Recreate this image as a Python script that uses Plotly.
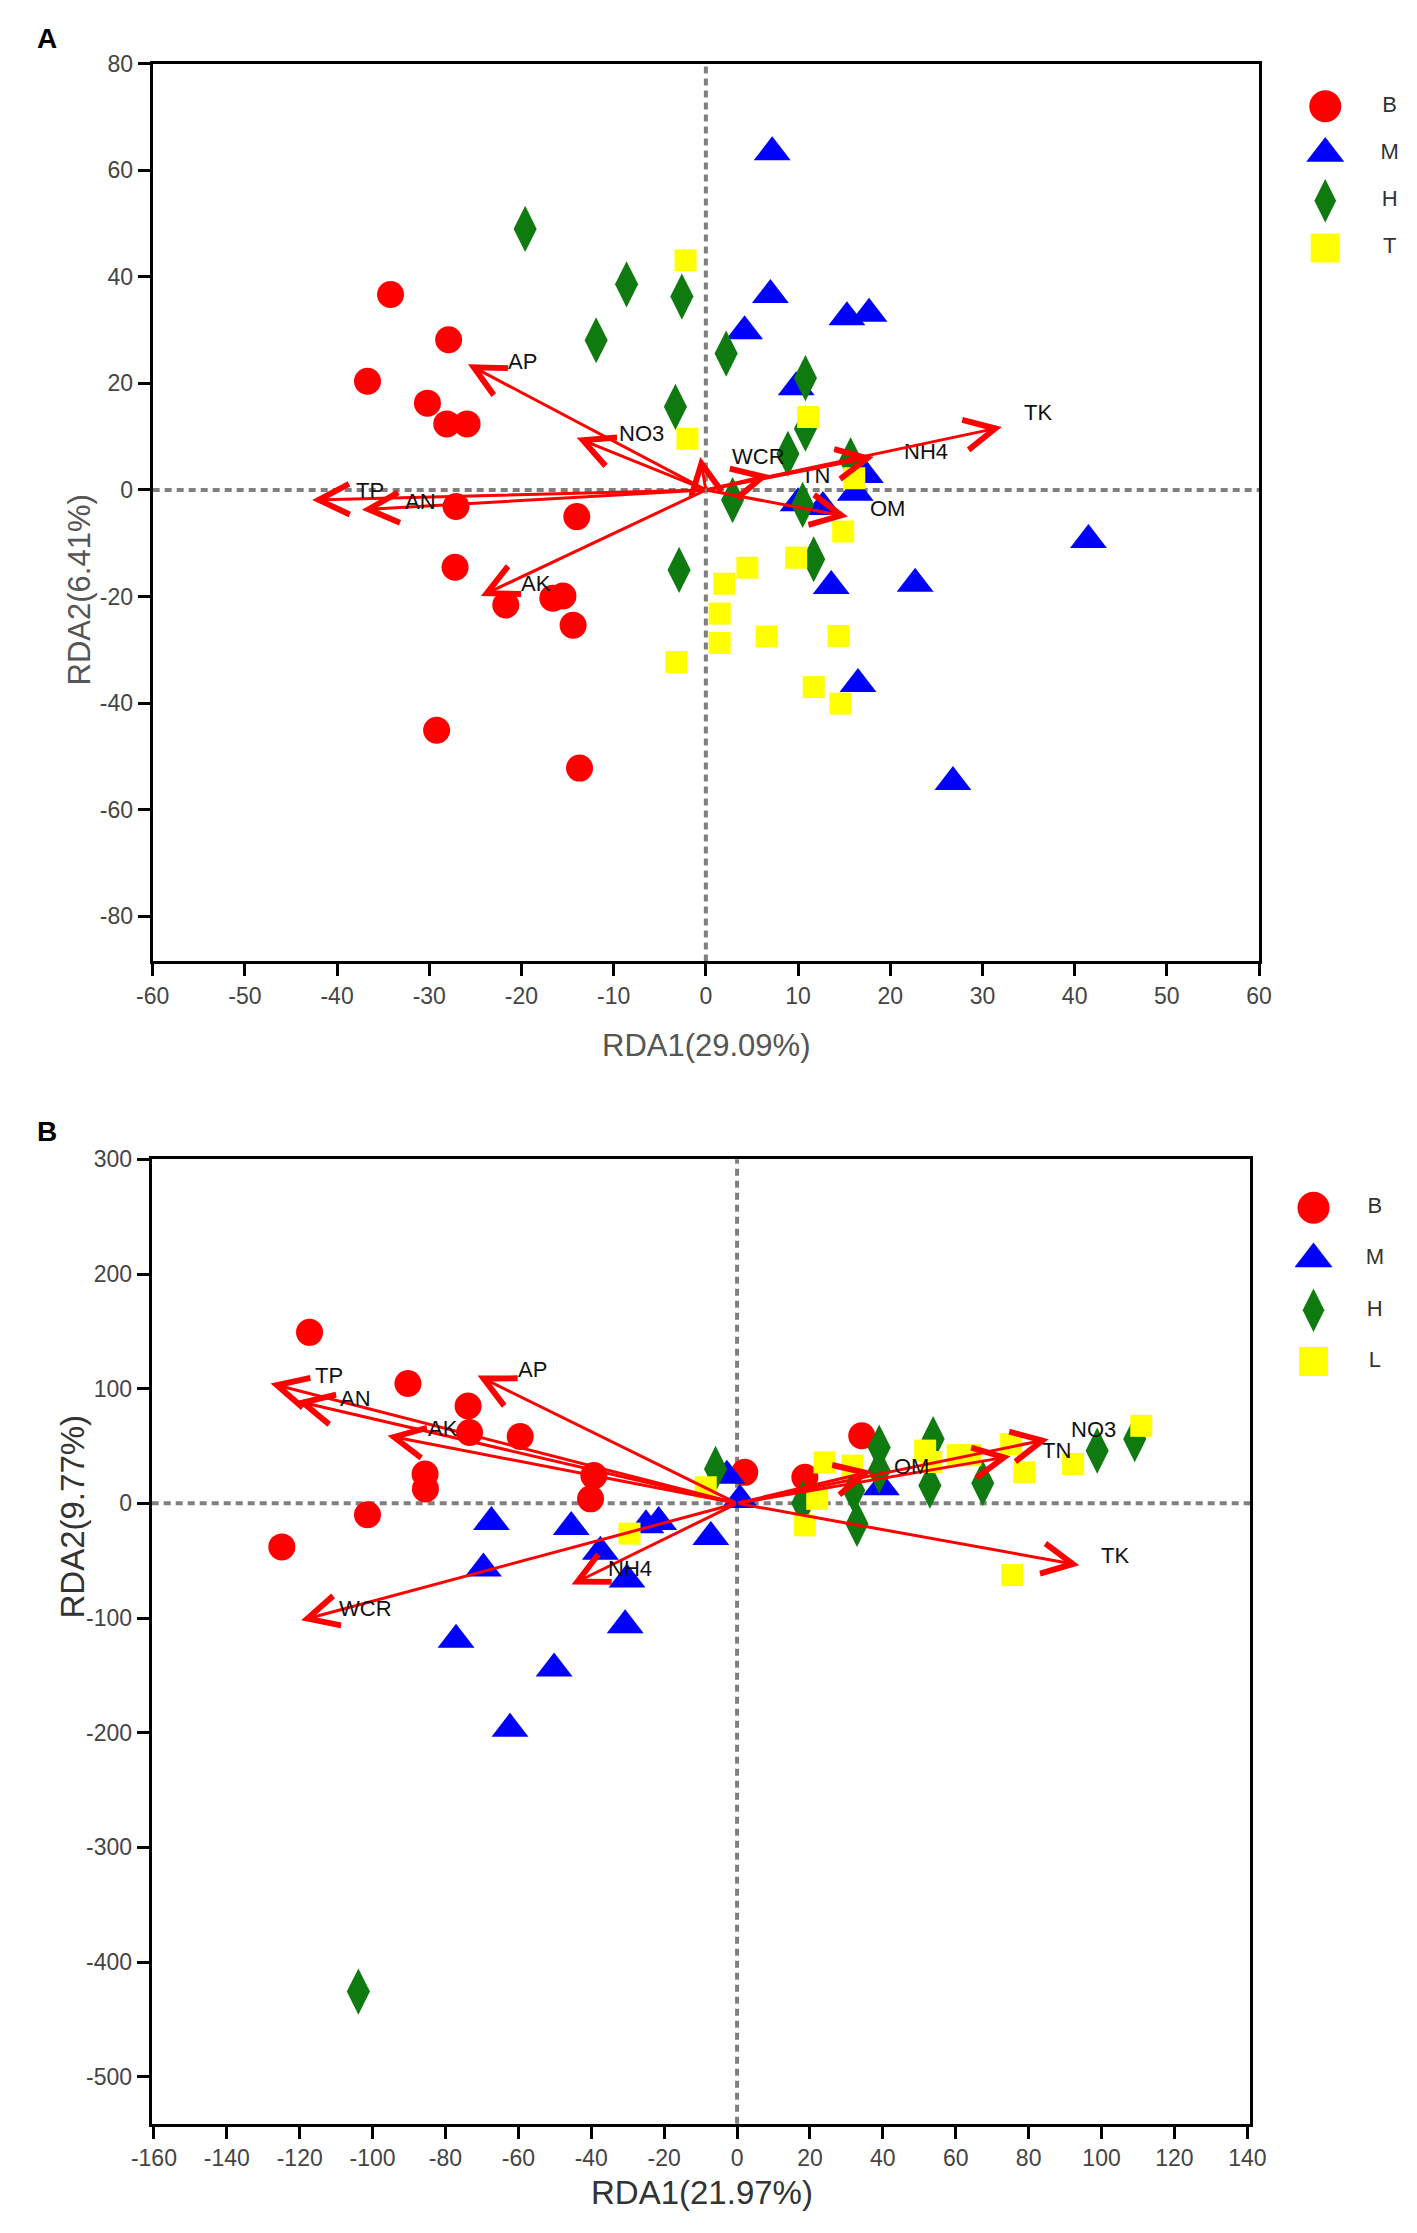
import plotly.graph_objects as go

W, H = 1417, 2233
FONT = "Liberation Sans"

# ---- panel A: sample scores ----
groups_a = ["B", "M", "H", "T"]
a_B_x = [-34.2, -27.9, -36.7, -30.2, -28.1, -25.9, -27.1, -14.0, -27.2, -21.7, -16.6, -15.5, -14.4, -29.2, -13.7]
a_B_y = [36.7, 28.2, 20.4, 16.3, 12.4, 12.4, -3.1, -5.0, -14.5, -21.6, -20.3, -19.9, -25.4, -45.1, -52.2]
a_M_x = [7.2, 7.0, 4.2, 15.3, 17.7, 9.8, 17.3, 16.2, 12.7, 10.0, 41.5, 13.6, 22.7, 16.5, 26.8]
a_M_y = [63.4, 36.6, 29.8, 32.4, 33.1, 19.3, 2.8, -0.5, -3.2, -2.5, -9.4, -18.0, -17.6, -36.4, -54.8]
a_H_x = [-19.6, -8.6, -2.6, -11.9, 2.2, 10.8, -3.3, 10.8, 8.9, 15.7, 2.9, 10.5, 11.7, -2.9]
a_H_y = [49.0, 38.6, 36.3, 28.1, 25.6, 21.0, 15.6, 11.5, 6.8, 5.6, -1.9, -2.8, -13.0, -15.0]
a_T_x = [-2.2, -2.0, 11.1, 16.1, 14.9, 9.8, 4.5, 2.0, 1.5, 1.5, 6.6, 14.4, -3.2, 11.7, 14.6]
a_T_y = [43.1, 9.6, 13.7, 2.2, -7.8, -12.7, -14.6, -17.6, -23.2, -28.7, -27.5, -27.4, -32.3, -37.0, -40.1]

# panel A: environmental vectors
a_env = ["TP", "AN", "AP", "NO3", "AK", "WCR", "TN", "NH4", "TK", "OM"]
a_env_x = [-42.7, -37.3, -25.8, -14.0, -24.4, -0.6, 6.9, 18.2, 32.1, 15.4]
a_env_y = [-1.9, -3.7, 23.6, 9.8, -19.9, 6.2, 2.8, 6.2, 11.8, -5.0]

# ---- panel B: sample scores ----
groups_b = ["B", "M", "H", "L"]
b_B_x = [-117.3, -90.3, -73.8, -73.4, -59.5, -85.6, -85.5, -39.3, -40.2, -101.4, -124.9, 34.2, 2.1, 18.6]
b_B_y = [149.1, 104.5, 84.9, 61.8, 58.3, 25.6, 12.6, 24.2, 3.9, -10.0, -38.0, 58.9, 27.0, 22.7]
b_M_x = [-67.4, -45.5, -25.0, -21.5, -7.2, -37.5, -69.6, -30.2, -30.7, -77.1, -50.2, -62.3, 0.8, -2.8, 39.6]
b_M_y = [-16.3, -20.6, -19.2, -16.3, -29.3, -42.3, -56.8, -66.4, -106.4, -119.0, -144.0, -196.6, 3.0, 24.0, 14.0]
b_H_x = [-5.9, 39.0, 39.0, 53.8, 52.9, 32.0, 32.9, 67.4, 98.8, 109.1, -103.9, 18.0]
b_H_y = [30.0, 48.7, 28.5, 56.0, 15.5, 11.2, -18.0, 17.5, 45.9, 56.0, -425.8, 0.0]
b_L_x = [-8.6, -29.5, 24.0, 31.6, 22.0, 18.6, 51.6, 53.3, 60.5, 64.0, 75.2, 78.8, 92.2, 110.9, 75.5]
b_L_y = [14.0, -26.4, 35.7, 32.9, 3.9, -19.2, 46.0, 36.0, 42.0, 42.0, 51.6, 27.0, 34.3, 67.6, -62.6]

# panel B: environmental vectors
b_env = ["TP", "AN", "AK", "AP", "WCR", "NH4", "TK", "NO3", "TN", "OM"]
b_env_x = [-128.0, -120.9, -95.9, -71.2, -119.6, -45.4, 93.9, 85.5, 75.0, 37.0]
b_env_y = [104.5, 89.2, 58.9, 111.4, -102.0, -70.8, -53.9, 56.0, 41.0, 28.0]

# tick values
a_xticks = [-60, -50, -40, -30, -20, -10, 0, 10, 20, 30, 40, 50, 60]
a_yticks = [-80, -60, -40, -20, 0, 20, 40, 60, 80]
b_xticks = [-160, -140, -120, -100, -80, -60, -40, -20, 0, 20, 40, 60, 80, 100, 120, 140]
b_yticks = [-500, -400, -300, -200, -100, 0, 100, 200, 300]

# marker styles, one per group position
symbols = ["circle", "triangle-up", "diamond-tall", "square"]
colors = ["#ff0000", "#0000ff", "#0f7a0f", "#ffff00"]
sizes = [27, 32, 33, 22]
legend_sizes = [32, 33, 31, 29]

# label nudges (px) for arrow labels: (right, up)
a_shift = {"TP": (42, 10), "AN": (41, 8), "AP": (38, 3), "NO3": (40, 4), "AK": (38, 12),
           "WCR": (30, 0), "TN": (30, 0), "NH4": (28, 5), "TK": (20, 15), "OM": (20, 8)}
b_shift = {"TP": (42, 8), "AN": (42, 3), "AK": (38, 7), "AP": (38, 6), "WCR": (36, 12),
           "NH4": (34, 16), "TK": (20, 10), "NO3": (20, 10), "TN": (30, 6), "OM": (20, 5)}


def px_x(p):
    return p / W


def px_y(p):
    return 1 - p / H


fig = go.Figure()

panels = [
    dict(groups=groups_a, xs=[a_B_x, a_M_x, a_H_x, a_T_x], ys=[a_B_y, a_M_y, a_H_y, a_T_y],
         env=a_env, ex=a_env_x, ey=a_env_y, shift=a_shift, xa="x", ya="y", lxa="x3", lya="y3"),
    dict(groups=groups_b, xs=[b_B_x, b_M_x, b_H_x, b_L_x], ys=[b_B_y, b_M_y, b_H_y, b_L_y],
         env=b_env, ex=b_env_x, ey=b_env_y, shift=b_shift, xa="x2", ya="y2", lxa="x4", lya="y4"),
]
legend_marker_x = [0.265, 0.162]
legend_text_x = [0.83, 0.70]

annotations = []
shapes = []
for k, p in enumerate(panels):
    for i, g in enumerate(p["groups"]):
        fig.add_trace(go.Scatter(
            x=p["xs"][i], y=p["ys"][i], mode="markers", name=g,
            xaxis=p["xa"], yaxis=p["ya"], cliponaxis=False,
            marker=dict(symbol=symbols[i], color=colors[i], size=sizes[i], line=dict(width=0)),
        ))
        # legend made of real markers on a hidden category axis
        fig.add_trace(go.Scatter(
            x=[legend_marker_x[k]], y=[g], mode="markers", xaxis=p["lxa"], yaxis=p["lya"],
            marker=dict(symbol=symbols[i], color=colors[i], size=legend_sizes[i], line=dict(width=0)),
            hoverinfo="skip",
        ))
    fig.add_trace(go.Scatter(
        x=[legend_text_x[k]] * len(p["groups"]), y=p["groups"], text=p["groups"], mode="text",
        xaxis=p["lxa"], yaxis=p["lya"], textposition="middle center",
        textfont=dict(family=FONT, size=22, color="#333333"), hoverinfo="skip",
    ))

    # dashed zero lines
    dash = dict(color="#808080", width=4, dash="7px,5px")
    shapes.append(dict(type="line", xref=p["xa"], yref=p["ya"] + " domain", x0=0, x1=0, y0=0, y1=1,
                       line=dash, layer="below"))
    shapes.append(dict(type="line", xref=p["xa"] + " domain", yref=p["ya"], x0=0, x1=1, y0=0, y1=0,
                       line=dash, layer="below"))

    # environmental arrows from the origin
    for name, tx, ty in zip(p["env"], p["ex"], p["ey"]):
        annotations.append(dict(
            x=tx, y=ty, ax=0, ay=0, xref=p["xa"], yref=p["ya"], axref=p["xa"], ayref=p["ya"],
            text="", showarrow=True, arrowhead=5, arrowsize=2, arrowwidth=3,
            arrowcolor="#ff0000", standoff=0,
        ))
        dx, dy = p["shift"][name]
        annotations.append(dict(
            x=tx, y=ty, xref=p["xa"], yref=p["ya"], text=name, showarrow=False,
            xanchor="left", yanchor="middle", xshift=dx, yshift=dy,
            font=dict(family=FONT, size=22, color="#111111"),
        ))

# panel letters and axis titles
annotations += [
    dict(x=px_x(6), y=px_y(18), xref="paper", yref="paper", text="<b>A</b>", showarrow=False,
         xanchor="left", yanchor="middle", font=dict(family=FONT, size=28, color="black")),
    dict(x=px_x(6), y=px_y(1117), xref="paper", yref="paper", text="<b>B</b>", showarrow=False,
         xanchor="left", yanchor="middle", font=dict(family=FONT, size=28, color="black")),
    dict(x=px_x(695), y=px_y(1030), xref="paper", yref="paper", text="RDA1(29.09%)", showarrow=False,
         font=dict(family=FONT, size=31, color="#555555")),
    dict(x=px_x(32), y=px_y(474), xref="paper", yref="paper", text="RDA2(6.41%)", showarrow=False,
         textangle=-90, font=dict(family=FONT, size=31, color="#555555")),
    dict(x=px_x(691), y=px_y(2205), xref="paper", yref="paper", text="RDA1(21.97%)", showarrow=False,
         font=dict(family=FONT, size=33, color="#333333")),
    dict(x=px_x(24), y=px_y(1609), xref="paper", yref="paper", text="RDA2(9.77%)", showarrow=False,
         textangle=-90, font=dict(family=FONT, size=33, color="#333333")),
]

axis_common = dict(
    showline=True, linewidth=3, linecolor="black", mirror=True, showgrid=False, zeroline=False,
    ticks="outside", ticklen=12, tickwidth=3, tickcolor="black",
    tickfont=dict(family=FONT, size=23, color="#444444"),
)
hidden = dict(visible=False, fixedrange=True)

fig.update_layout(
    width=W, height=H, margin=dict(l=0, r=0, t=0, b=0),
    paper_bgcolor="white", plot_bgcolor="white", showlegend=False,
    xaxis=dict(axis_common, domain=[px_x(127), px_x(1263)], range=[-60, 60], anchor="y",
               tickvals=a_xticks, ticktext=[str(v) for v in a_xticks]),
    yaxis=dict(axis_common, domain=[px_y(946), px_y(43)], range=[-88.5, 80], anchor="x",
               tickvals=a_yticks, ticktext=[str(v) for v in a_yticks]),
    xaxis2=dict(axis_common, domain=[px_x(126), px_x(1254)], range=[-160.6, 140.8], anchor="y2",
                tickvals=b_xticks, ticktext=[str(v) for v in b_xticks]),
    yaxis2=dict(axis_common, domain=[px_y(2115), px_y(1145)], range=[-541, 300], anchor="x2",
                tickvals=b_yticks, ticktext=[str(v) for v in b_yticks]),
    xaxis3=dict(hidden, domain=[px_x(1300), 1.0], range=[0, 1], anchor="y3"),
    yaxis3=dict(hidden, domain=[px_y(252), px_y(62)], type="category", categoryorder="array",
                categoryarray=groups_a[::-1], range=[-0.5, 3.5], anchor="x3"),
    xaxis4=dict(hidden, domain=[px_x(1300), 1.0], range=[0, 1], anchor="y4"),
    yaxis4=dict(hidden, domain=[px_y(1374), px_y(1168)], type="category", categoryorder="array",
                categoryarray=groups_b[::-1], range=[-0.5, 3.5], anchor="x4"),
    shapes=shapes,
    annotations=annotations,
)

fig.write_html("out.html")
